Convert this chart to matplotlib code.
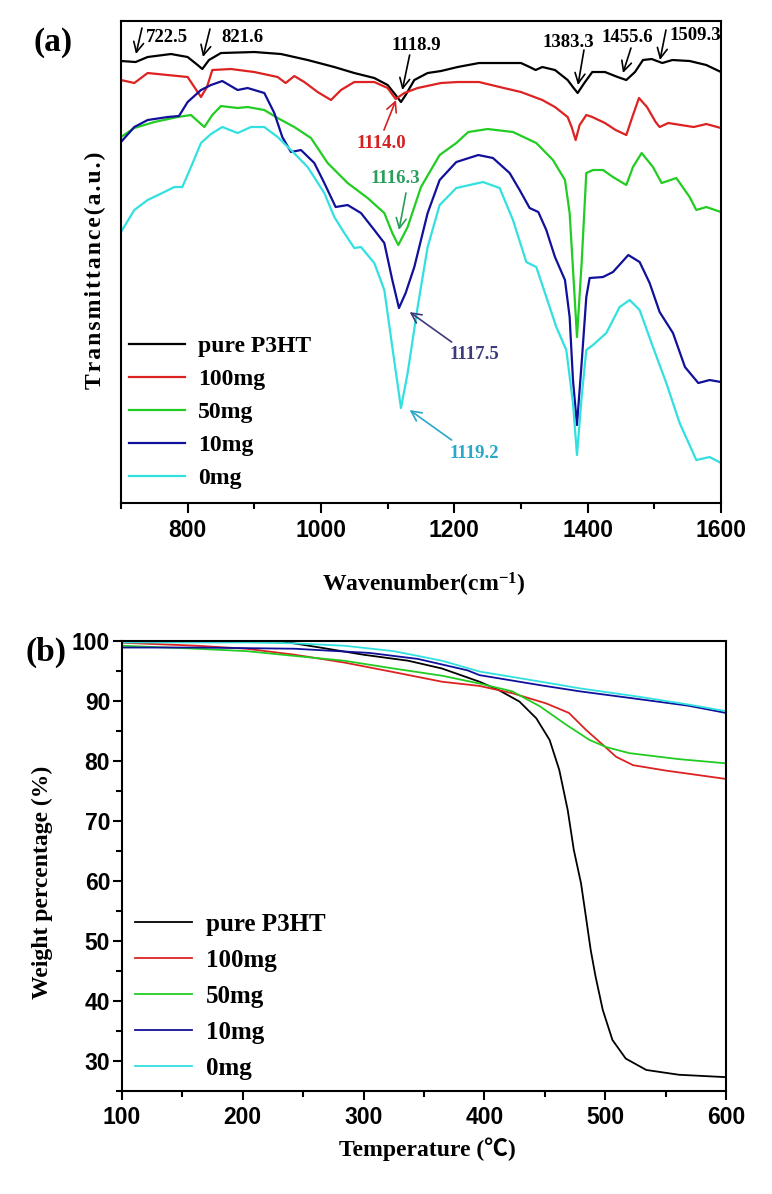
import matplotlib
matplotlib.use('Agg')
import matplotlib.pyplot as plt
from matplotlib.ticker import MultipleLocator

plt.rcParams['font.family'] = ['Liberation Serif', 'DejaVu Serif']
plt.rcParams['mathtext.fontset'] = 'custom'
plt.rcParams['mathtext.rm'] = 'Liberation Serif:bold'
plt.rcParams['mathtext.it'] = 'Liberation Serif:bold'
plt.rcParams['mathtext.bf'] = 'Liberation Serif:bold'

labels = ['pure P3HT', '100mg', '50mg', '10mg', '0mg']
colors = ['#000000', '#dd2222', '#22cc22', '#10109a', '#33e0e0']

# ---- (a) FTIR, transmittance in arbitrary units ----
wn_pure = [700, 722, 740, 775, 800, 815, 822, 832, 850, 900, 940, 980, 1020, 1050,
           1080, 1100, 1112, 1120, 1127, 1140, 1160, 1180, 1205, 1237, 1268, 1300,
           1313, 1322, 1332, 1351, 1370, 1379, 1385, 1395, 1407, 1426, 1445, 1458,
           1471, 1483, 1496, 1512, 1527, 1553, 1578, 1600]
tr_pure = [442, 441, 446, 449, 446, 438, 434, 443, 450, 451, 449, 443, 436, 430,
           425, 418, 408, 401, 408, 423, 430, 432, 436, 440, 440, 440,
           436, 433, 436, 433, 423, 415, 410, 420, 431, 431, 426, 423,
           431, 443, 444, 440, 443, 442, 438, 431]

wn_100 = [700, 720, 740, 770, 800, 810, 820, 829, 837, 865, 900, 935, 947, 960, 975,
          995, 1015, 1030, 1050, 1080, 1100, 1112, 1125, 1145, 1180, 1205, 1237,
          1268, 1300, 1332, 1351, 1370, 1376, 1382, 1388, 1398, 1407, 1426, 1442,
          1458, 1467, 1477, 1489, 1502, 1508, 1521, 1540, 1559, 1578, 1600]
tr_100 = [423, 420, 430, 428, 426, 416, 406, 416, 433, 434, 431, 426, 420, 427, 421,
          411, 403, 413, 421, 421, 415, 404, 410, 415, 420, 421, 421,
          416, 411, 403, 396, 386, 376, 363, 378, 388, 386, 380, 373,
          368, 386, 405, 396, 381, 376, 380, 378, 376, 379, 375]

wn_50 = [700, 720, 750, 785, 805, 825, 837, 850, 875, 890, 915, 935, 960, 985, 1010,
         1040, 1070, 1095, 1107, 1116, 1130, 1150, 1178, 1203, 1221, 1250, 1288,
         1323, 1348, 1366, 1373, 1379, 1384, 1391, 1398, 1408, 1423, 1438, 1458,
         1468, 1481, 1498, 1511, 1533, 1553, 1563, 1578, 1600]
tr_50 = [366, 375, 381, 386, 388, 376, 388, 397, 395, 396, 393, 385, 376, 365, 340,
         320, 305, 290, 270, 258, 276, 316, 348, 360, 371, 374, 371,
         360, 343, 323, 290, 223, 166, 240, 330, 333, 333, 326, 318,
         336, 350, 336, 320, 325, 306, 293, 296, 291]

wn_10 = [700, 720, 740, 770, 787, 800, 820, 835, 852, 875, 890, 915, 930, 942, 955,
         970, 990, 1005, 1022, 1040, 1060, 1080, 1095, 1107, 1117, 1127, 1140, 1160,
         1178, 1203, 1236, 1258, 1283, 1298, 1313, 1326, 1338, 1351, 1366, 1373,
         1378, 1384, 1391, 1398, 1403, 1423, 1438, 1461, 1478, 1493, 1508, 1528,
         1546, 1566, 1583, 1600]
tr_10 = [361, 376, 383, 386, 387, 401, 413, 418, 422, 413, 415, 410, 390, 366, 351,
         353, 340, 320, 296, 298, 290, 273, 260, 223, 195, 210, 236, 290,
         323, 341, 348, 345, 330, 313, 295, 291, 273, 246, 223, 186,
         123, 78, 140, 206, 225, 226, 231, 248, 241, 220, 191, 170,
         136, 120, 123, 121]

wn_0 = [700, 720, 740, 765, 780, 792, 805, 820, 835, 852, 875, 895, 915, 935, 955,
        980, 1005, 1020, 1035, 1050, 1060, 1080, 1095, 1107, 1120, 1130, 1145, 1160,
        1178, 1203, 1243, 1268, 1288, 1308, 1323, 1338, 1353, 1368, 1378, 1384,
        1391, 1398, 1408, 1428, 1448, 1463, 1478, 1498, 1518, 1538, 1563, 1583, 1600]
tr_0 = [271, 293, 303, 311, 316, 316, 336, 360, 369, 376, 370, 376, 376, 366, 353,
        336, 310, 286, 270, 255, 256, 240, 213, 156, 95, 130, 196, 256,
        298, 315, 321, 315, 283, 241, 236, 206, 176, 153, 100, 48,
        106, 153, 158, 170, 196, 203, 193, 156, 120, 80, 43, 46, 40]

ftir_wn = [wn_pure, wn_100, wn_50, wn_10, wn_0]
ftir_tr = [tr_pure, tr_100, tr_50, tr_10, tr_0]

# peak labels: text, text position, arrow tail, arrow head, colour
peaks = [
    ('722.5', (769, 466), (731.5, 475), (722.5, 449), 'black'),
    ('821.6', (881.5, 466), (833.5, 474), (823, 446), 'black'),
    ('1118.9', (1142.5, 458), (1133, 448), (1122, 413), 'black'),
    ('1383.3', (1370.5, 461), (1394.5, 453), (1385.5, 418), 'black'),
    ('1455.6', (1459, 466), (1465, 455), (1453, 430), 'black'),
    ('1509.3', (1561, 468), (1517.5, 473), (1508.5, 443), 'black'),
    ('1114.0', (1090, 360), (1094.5, 373), (1112.5, 403), '#d42020'),
    ('1116.3', (1111, 325), (1127.5, 310), (1117, 273), '#2a9d5c'),
    ('1117.5', (1229.5, 149), (1196, 161), (1133, 191), '#3b3b7d'),
    ('1119.2', (1229.5, 50), (1196, 63), (1133, 93), '#2aa7c9'),
]

# ---- (b) TGA ----
temp_pure = [100, 150, 200, 233, 264, 300, 337, 365, 396, 412, 429, 443, 454, 462,
             469, 474, 480, 484, 488, 492, 498, 506, 517, 534, 561, 600]
wt_pure = [100, 100, 100, 99.9, 98.9, 97.7, 96.7, 95.4, 93.2, 91.8, 89.9, 87.1, 83.5,
           78.5, 71.8, 65.2, 59.6, 54.1, 48.5, 44.1, 38.5, 33.5, 30.4, 28.5, 27.7, 27.3]
temp_100 = [100, 162, 203, 243, 284, 325, 365, 396, 423, 451, 470, 484, 498, 509,
            523, 550, 600]
wt_100 = [99.7, 99.2, 98.7, 97.7, 96.4, 94.8, 93.2, 92.5, 91.3, 89.6, 88.0, 85.2,
          82.7, 80.7, 79.3, 78.4, 77.0]
temp_50 = [100, 162, 203, 243, 284, 325, 365, 396, 423, 446, 468, 487, 501, 520,
           561, 600]
wt_50 = [99.2, 98.7, 98.3, 97.5, 96.7, 95.4, 94.2, 92.9, 91.6, 89.1, 86.0, 83.5,
         82.3, 81.3, 80.3, 79.6]
temp_10 = [100, 162, 243, 305, 345, 386, 396, 447, 479, 528, 569, 600]
wt_10 = [98.9, 98.9, 98.7, 98.0, 97.0, 95.1, 94.3, 92.6, 91.6, 90.3, 89.2, 88.0]
temp_0 = [100, 203, 243, 284, 325, 365, 396, 447, 479, 528, 569, 600]
wt_0 = [99.75, 99.75, 99.6, 99.2, 98.3, 96.7, 94.9, 93.2, 92.1, 90.7, 89.4, 88.3]

tga_t = [temp_pure, temp_100, temp_50, temp_10, temp_0]
tga_w = [wt_pure, wt_100, wt_50, wt_10, wt_0]

bold_serif = dict(family=['Liberation Serif', 'DejaVu Serif'], weight='bold')


def style_ticks(ax):
    for lab in ax.get_xticklabels() + ax.get_yticklabels():
        lab.set_fontfamily('Liberation Sans')
        lab.set_fontweight('bold')
        lab.set_fontsize(16.5)
    for sp in ax.spines.values():
        sp.set_linewidth(1.5)


fig = plt.figure(figsize=(7.72, 11.94), dpi=100)
ax1 = fig.add_axes([0.1567, 0.5787, 0.7772, 0.4037])
ax2 = fig.add_axes([0.158, 0.0863, 0.7824, 0.3769])

# panel (a)
lines = []
for wn, tr, c, lab in zip(ftir_wn, ftir_tr, colors, labels):
    ln, = ax1.plot(wn, tr, color=c, lw=1.6, label=lab)
    lines.append(ln)
ax1.set_xlim(700, 1600)
ax1.set_ylim(0, 482)
ax1.xaxis.set_major_locator(MultipleLocator(200))
ax1.xaxis.set_minor_locator(MultipleLocator(100))
ax1.set_yticks([])
ax1.tick_params(axis='x', which='major', direction='out', length=7, width=1.5, pad=4.5)
ax1.tick_params(axis='x', which='minor', direction='out', length=4, width=1.5)
style_ticks(ax1)

for txt, tpos, tail, head, c in peaks:
    ax1.annotate('', xy=head, xytext=tail,
                 arrowprops=dict(arrowstyle='->', color=c, lw=1.2, mutation_scale=18,
                                 shrinkA=0, shrinkB=0))
    ax1.text(tpos[0], tpos[1], txt, color=c, fontsize=13.5, ha='center', va='center',
             **bold_serif)

ax1.set_xlabel('Wavenumber(cm$^{-1}$)', fontsize=17, va='center', **bold_serif)
ax1.xaxis.set_label_coords(0.505, -0.170)
ax1.set_ylabel('\u200a'.join('Transmittance(a.u.)'), fontsize=17, va='center',
               **bold_serif)
ax1.yaxis.set_label_coords(-0.043, 0.483)
ax1.legend(handles=lines, loc='upper left', bbox_to_anchor=(0.013, 0.3475),
           frameon=False, prop=dict(family='Liberation Serif', weight='bold', size=17),
           handlelength=2.4, handletextpad=0.55, labelspacing=0.49,
           borderpad=0, borderaxespad=0)
fig.text(53 / 772, 1 - 42 / 1194, '(a)', fontsize=24, ha='center', va='center',
         **bold_serif)

# panel (b)
lines2 = []
for t, w, c, lab in zip(tga_t, tga_w, colors, labels):
    ln, = ax2.plot(t, w, color=c, lw=1.3, label=lab)
    lines2.append(ln)
ax2.set_xlim(100, 600)
ax2.set_ylim(25, 100)
ax2.xaxis.set_major_locator(MultipleLocator(100))
ax2.xaxis.set_minor_locator(MultipleLocator(50))
ax2.yaxis.set_minor_locator(MultipleLocator(5))
ax2.set_yticks(range(30, 101, 10))
ax2.tick_params(axis='both', which='major', direction='out', length=6.5, width=1.5)
ax2.tick_params(axis='both', which='minor', direction='out', length=4, width=1.5)
ax2.tick_params(axis='x', pad=4.5)
ax2.tick_params(axis='y', pad=2)
style_ticks(ax2)

ax2.set_xlabel('Temperature (\u2103)', fontsize=17, va='center',
               family=['Liberation Serif', 'Noto Sans CJK SC'], weight='bold')
ax2.xaxis.set_label_coords(0.505, -0.130)
ax2.set_ylabel('Weight percentage (%)', fontsize=17, va='center', **bold_serif)
ax2.yaxis.set_label_coords(-0.131, 0.464)
ax2.legend(handles=lines2, loc='upper left', bbox_to_anchor=(0.0215, 0.396),
           frameon=False, prop=dict(family='Liberation Serif', weight='bold', size=18),
           handlelength=2.3, handletextpad=0.55, labelspacing=0.52,
           borderpad=0, borderaxespad=0)
fig.text(46 / 772, 1 - 652 / 1194, '(b)', fontsize=24, ha='center', va='center',
         **bold_serif)

fig.savefig('out.png', dpi=100)
